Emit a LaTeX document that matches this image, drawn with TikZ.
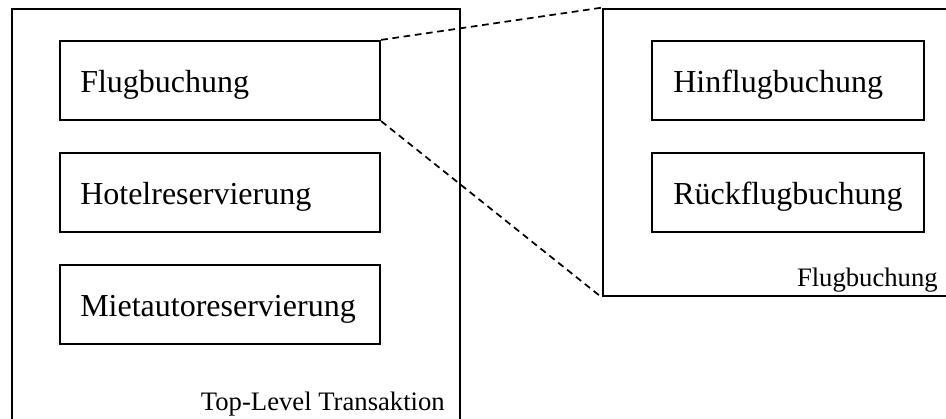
\documentclass[tikz,border=0pt]{standalone}
\usepackage{fontspec}
\setmainfont{Liberation Serif}
\begin{document}
\begin{tikzpicture}[x=0.75pt,y=-0.75pt,
  frame/.style={draw, line width=2pt, rectangle, inner sep=0pt},
  subtx/.style={draw, line width=1.7pt, rectangle, inner sep=0pt},
  boxlabel/.style={anchor=base west, inner sep=0pt, font=\fontsize{24pt}{28pt}\selectfont},
  framelabel/.style={anchor=base east, inner sep=0pt, font=\fontsize{20pt}{24pt}\selectfont},
  zoomline/.style={line width=1.3pt, dash pattern=on 5pt off 3.5pt}]
\useasboundingbox (0,0) rectangle (946,418);
\clip (0,0) rectangle (946,418);
\fill[white] (0,0) rectangle (946,418);

% top-level transaction
\node[frame, minimum width=336pt, minimum height=323.25pt] (top) at (236,224.5) {};
\node[subtx, minimum width=240pt, minimum height=59.25pt] (flug) at (220,80.5) {};
\node[subtx, minimum width=240pt, minimum height=59.25pt] (hotel) at (220,192.5) {};
\node[subtx, minimum width=240pt, minimum height=59.25pt] (auto) at (220,304.5) {};
\node[boxlabel] (flugT) at (80,92) {Flugbuchung};
\node[boxlabel] (hotelT) at (80,204) {Hotelreservierung};
\node[boxlabel] (autoT) at (80,316) {Mietautoreservierung};
\node[framelabel] (topT) at (445,410) {Top-Level Transaktion};

% nested flight booking transaction
\node[frame, minimum width=282.75pt, minimum height=215.25pt] (nest) at (791.5,152.5) {};
\node[subtx, minimum width=204pt, minimum height=59.25pt] (hin) at (788,80.5) {};
\node[subtx, minimum width=204pt, minimum height=59.25pt] (rueck) at (788,192.5) {};
\node[boxlabel] (hinT) at (673,92) {Hinflugbuchung};
\node[boxlabel] (rueckT) at (673,204) {Rückflugbuchung};
\node[framelabel] (nestT) at (938,286) {Flugbuchung};

% zoom connectors
\draw[zoomline] (flug.north east) -- (nest.north west);
\draw[zoomline] (flug.south east) -- (nest.south west);
\end{tikzpicture}
\end{document}
